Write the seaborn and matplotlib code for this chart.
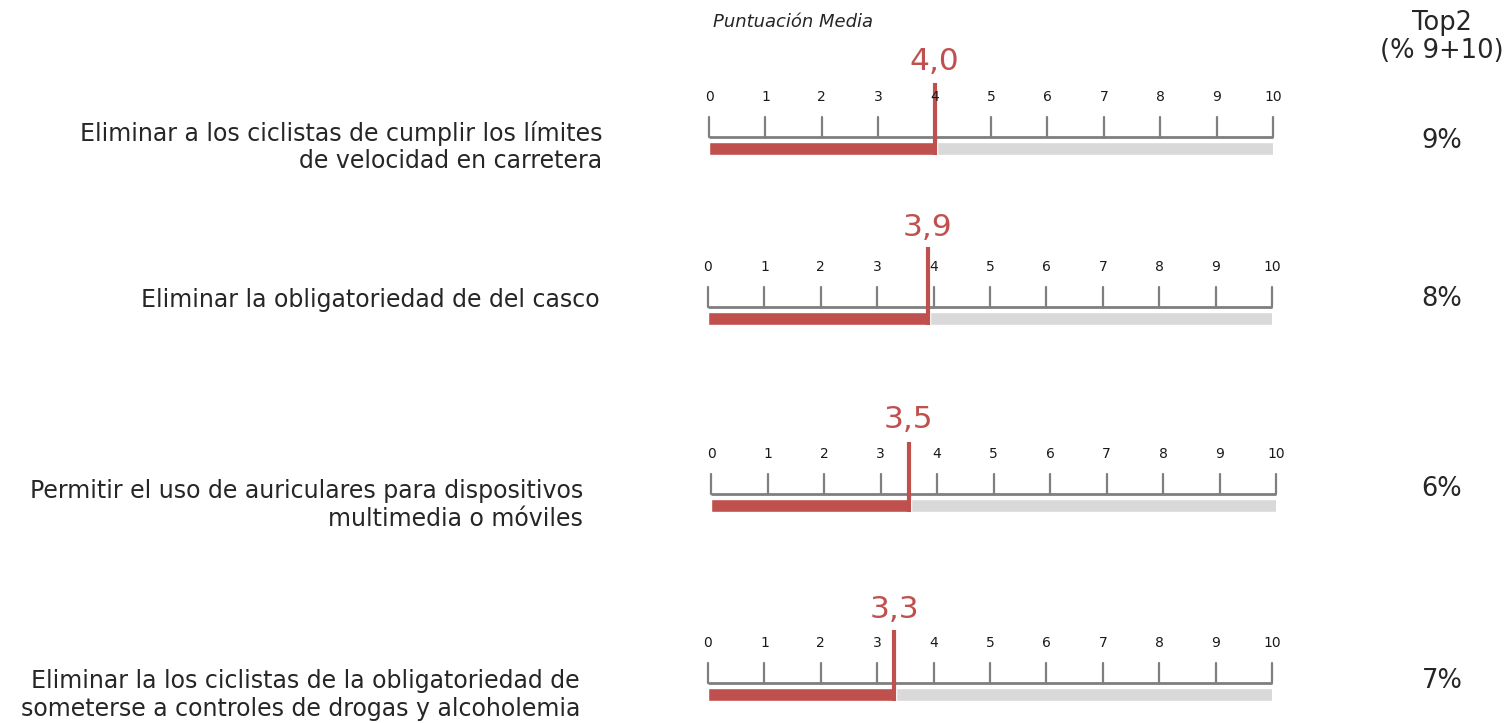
import matplotlib
matplotlib.use("Agg")
import matplotlib.pyplot as plt
import seaborn as sns
import numpy as np

# ---- data ----
items = [
    "Eliminar a los ciclistas de cumplir los límites\nde velocidad en carretera",
    "Eliminar la obligatoriedad de del casco",
    "Permitir el uso de auriculares para dispositivos\nmultimedia o móviles",
    "Eliminar la los ciclistas de la obligatoriedad de\nsometerse a controles de drogas y alcoholemia",
]
scores = [4.0, 3.9, 3.5, 3.3]
score_labels = ["4,0", "3,9", "3,5", "3,3"]
top2 = ["9%", "8%", "6%", "7%"]
scale_ticks = list(range(0, 11))
scale_max = 10

# ---- layout (pixels) ----
W, H = 1509, 723
RED = "#C0504D"
GREY_BAR = "#D9D9D9"
RULER = "#7F7F7F"
TXT = "#262626"

sns.set_theme(style="white")
plt.rcParams["font.family"] = ["DejaVu Sans"]

fig = plt.figure(figsize=(W / 100, H / 100), dpi=100)

x0s = [709, 708, 711, 708]          # pixel of 0 on each ruler
x10s = [1273, 1272, 1276, 1272]     # pixel of 10 on each ruler
baselines = [137, 307, 494, 683]
line_tops = [83, 247, 442, 630]
value_y = [62, 228, 420, 609]
label_right = [602, 600, 583, 580]
label_y = [147, 300, 505, 695]
top2_y = [141, 299, 489, 681]

for i in range(4):
    ax = fig.add_axes([x0s[i] / W, 0, (x10s[i] - x0s[i]) / W, 1])
    base = baselines[i]
    # background and value bars
    sns.barplot(x=[scale_max + 0.06], y=[base + 11.5], orient="h", native_scale=True,
                width=13, color=GREY_BAR, ax=ax, errorbar=None, saturation=1)
    sns.barplot(x=[scores[i] + 0.04], y=[base + 11.5], orient="h", native_scale=True,
                width=13, color=RED, ax=ax, errorbar=None, saturation=1)
    # ruler
    ax.plot([0, scale_max], [base, base], color=RULER, lw=2, solid_capstyle="butt", clip_on=False)
    for t in scale_ticks:
        ax.plot([t, t], [base, base - 20], color=RULER, lw=1.6, clip_on=False)
        ax.text(t, base - 40, str(t), ha="center", va="center", fontsize=10, color="#1a1a1a")
    # marker line
    ax.plot([scores[i], scores[i]], [line_tops[i], base + 18], color=RED, lw=3,
            solid_capstyle="butt", clip_on=False)
    ax.text(scores[i], value_y[i], score_labels[i], ha="center", va="center",
            fontsize=22.5, color=RED)
    ax.set_xlim(0, scale_max)
    ax.set_ylim(H, 0)
    ax.axis("off")

    fig.text(label_right[i] / W, 1 - label_y[i] / H, items[i], ha="right", va="center",
             fontsize=17, color=TXT, linespacing=1.2)
    fig.text(1442 / W, 1 - top2_y[i] / H, top2[i], ha="center", va="center",
             fontsize=18.5, color=TXT)

fig.text(713 / W, 1 - 22 / H, "Puntuación Media", ha="left", va="center",
         fontsize=13, style="italic", color=TXT)
fig.text(1442 / W, 1 - 37 / H, "Top2\n(% 9+10)", ha="center", va="center",
         fontsize=18.5, color=TXT, linespacing=1.15)

fig.savefig("out.png", dpi=100, facecolor="white")
